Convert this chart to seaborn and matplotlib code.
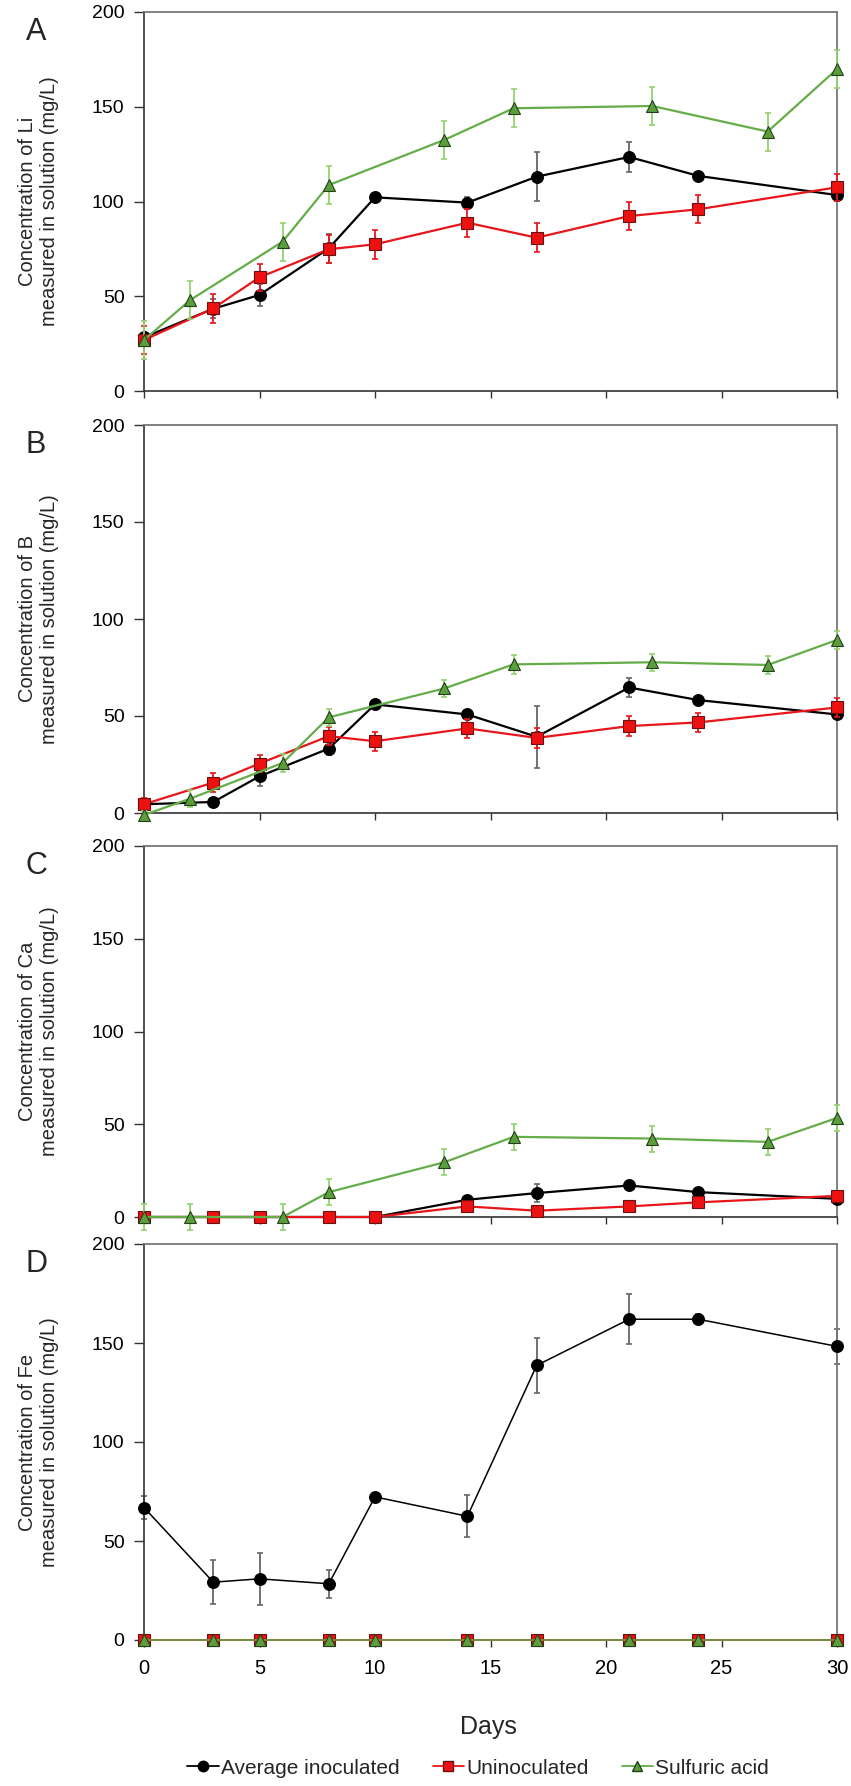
import numpy as np
import pandas as pd
import matplotlib
matplotlib.use("Agg")
import matplotlib.pyplot as plt
from matplotlib.lines import Line2D
import seaborn as sns

sns.set_theme(style="ticks")
plt.rcParams["font.family"] = ["Liberation Sans", "DejaVu Sans"]
NARROW = ["Liberation Sans Narrow", "Liberation Sans", "DejaVu Sans"]

# ── data ─────────────────────────────────────────────────────
days_main = [0, 3, 5, 8, 10, 14, 17, 21, 24, 30]
days_acid = [0, 2, 6, 8, 13, 16, 22, 27, 30]

li_inoc = [28.3, 43.4, 50.7, 75.3, 102.2, 99.4, 113.1, 123.5, 113.5, 103.4]
li_inoc_err = [2, 5, 6, 7.5, 1.5, 3, 13, 8, 1.5, 3]
li_uninoc = [26.9, 43.6, 60.0, 74.8, 77.4, 88.8, 80.9, 92.3, 95.9, 107.5]
li_uninoc_err = [7.5, 7.5, 7, 7.5, 7.5, 7.5, 7.5, 7.5, 7.5, 7]
li_acid = [26.9, 48.0, 78.8, 108.7, 132.5, 149.2, 150.4, 136.9, 169.9]
li_acid_err = [10, 10, 10, 10, 10, 10, 10, 10, 10]

b_inoc = [4.5, 5.7, 18.9, 33.2, 56.0, 50.8, 39.3, 64.7, 58.2, 50.8]
b_inoc_err = [1, 1.5, 5, 3.5, 1.5, 1.5, 16, 5, 1.5, 2]
b_uninoc = [4.5, 15.7, 25.5, 39.6, 37.0, 43.6, 38.7, 44.8, 46.7, 54.4]
b_uninoc_err = [3, 5, 4.5, 4.5, 5, 5, 5, 5, 5, 5]
b_acid = [-1, 7.4, 25.8, 49.3, 64.2, 76.6, 77.7, 76.3, 89.2]
b_acid_err = [2, 4.5, 4.5, 4.5, 4.5, 5, 4.5, 4.5, 4.5]

ca_inoc = [0, 0, 0, 0, 0, 9.3, 12.9, 17.0, 13.4, 9.8]
ca_inoc_err = [0.5, 0.5, 0.5, 0.5, 0.5, 1.5, 5, 2.5, 1.5, 1.5]
ca_uninoc = [0, 0, 0, 0, 0, 5.7, 3.4, 5.7, 7.9, 11.4]
ca_uninoc_err = [1, 1, 1, 1, 1, 2, 2, 2, 2, 2]
ca_acid = [0, 0, 0, 13.4, 29.5, 43.2, 42.3, 40.5, 53.4]
ca_acid_err = [7, 7, 7, 7, 7, 7, 7, 7, 7]

fe_inoc = [66.9, 29.2, 30.9, 28.4, 72.3, 62.5, 138.7, 162.0, 162.0, 148.3]
fe_inoc_err = [6, 11, 13, 7, 2, 10.5, 14, 12.5, 2.5, 9]
fe_uninoc = [0, 0, 0, 0, 0, 0, 0, 0, 0, 0]
fe_acid = [0, 0, 0, 0, 0, 0, 0, 0, 0, 0]

elements = ["Li", "B", "Ca", "Fe"]
letters = ["A", "B", "C", "D"]
series_names = ["Average inoculated", "Uninoculated", "Sulfuric acid"]

panels = [
    (li_inoc, li_inoc_err, li_uninoc, li_uninoc_err, days_acid, li_acid, li_acid_err),
    (b_inoc, b_inoc_err, b_uninoc, b_uninoc_err, days_acid, b_acid, b_acid_err),
    (ca_inoc, ca_inoc_err, ca_uninoc, ca_uninoc_err, days_acid, ca_acid, ca_acid_err),
    (fe_inoc, fe_inoc_err, fe_uninoc, [0] * 10, days_main, fe_acid, [0] * 10),
]

# style per series: line colour, marker, face, edge, errorbar colour
STYLE = {
    "Average inoculated": dict(c="black", m="o", fc="black", ec="black", err="#666666", ms=8.5),
    "Uninoculated": dict(c="#e8161b", m="s", fc="#ee1111", ec="#6a1010", err="#e8161b", ms=8),
    "Sulfuric acid": dict(c="#64ad48", m="^", fc="#5b9e3c", ec="#23401a", err="#92d36d", ms=8.5),
}

W, H = 851, 1786
fig = plt.figure(figsize=(W / 100, H / 100), dpi=100)
left, right = 144 / W, 837 / W
boxes = [(12, 391), (425, 813), (846, 1217), (1244, 1640)]

for k, ((top, bot), el, let, pdata) in enumerate(zip(boxes, elements, letters, panels)):
    ax = fig.add_axes([left, 1 - bot / H, right - left, (bot - top) / H])
    inoc, inoc_e, unin, unin_e, d_acid, acid, acid_e = pdata
    rows = [(d, v, e, series_names[0]) for d, v, e in zip(days_main, inoc, inoc_e)]
    rows += [(d, v, e, series_names[1]) for d, v, e in zip(days_main, unin, unin_e)]
    rows += [(d, v, e, series_names[2]) for d, v, e in zip(d_acid, acid, acid_e)]
    df = pd.DataFrame(rows, columns=["day", "conc", "err", "series"])

    lw = 1.6 if k < 3 else 1.1
    for z, name in enumerate(series_names):
        st = STYLE[name]
        sub = df[df.series == name]
        ax.errorbar(sub["day"], sub["conc"], yerr=sub["err"], fmt="none", ecolor=st["err"],
                    elinewidth=1.3, capsize=2, capthick=1.2, zorder=2 + z, clip_on=False)
        sns.lineplot(data=sub, x="day", y="conc", ax=ax, color=st["c"], lw=lw,
                     marker=st["m"], markersize=st["ms"], markerfacecolor=st["fc"],
                     markeredgecolor=st["ec"], markeredgewidth=0.8, zorder=3 + z,
                     clip_on=False, legend=False)

    ax.set_xlim(0, 30)
    ax.set_ylim(0, 200)
    ax.set_xticks(range(0, 31, 5))
    ax.set_yticks(range(0, 201, 50))
    ax.set_xlabel("")
    ax.set_ylabel(f"Concentration of {el}\nmeasured in solution (mg/L)", fontsize=14.5,
                  labelpad=24, linespacing=1.15)
    ax.tick_params(axis="y", direction="out", length=7, width=1, pad=7, labelsize=14,
                   colors="#333333")
    ax.tick_params(axis="x", direction="out", length=5, width=1, pad=9, labelsize=14.5,
                   colors="#333333")
    for lab in ax.get_yticklabels() + ax.get_xticklabels():
        lab.set_family(NARROW)
        lab.set_color("black")
    if k < 3:
        ax.set_xticklabels([])
    for s in ["top", "right"]:
        ax.spines[s].set_color("#777777")
        ax.spines[s].set_linewidth(1.3)
    for s in ["left", "bottom"]:
        ax.spines[s].set_color("#333333")
        ax.spines[s].set_linewidth(1.2)
    ax.grid(False)
    fig.text(36 / W, 1 - (top + 20) / H, let, fontsize=22, family=NARROW,
             ha="center", va="center")

fig.text(488 / W, 1 - 1727 / H, "Days", fontsize=18, family=NARROW, ha="center", va="center")

handles = [Line2D([], [], color=STYLE[n]["c"], lw=1.3, marker=STYLE[n]["m"],
                  markersize=7.5, markerfacecolor=STYLE[n]["fc"],
                  markeredgecolor=STYLE[n]["ec"]) for n in series_names]
fig.legend(handles, series_names, loc="center", bbox_to_anchor=(478 / W, 1 - 1768 / H),
           ncol=3, frameon=False, handlelength=1.5, handletextpad=0.1, columnspacing=1.6,
           prop={"family": NARROW, "size": 15})

fig.savefig("out.png", dpi=100)
